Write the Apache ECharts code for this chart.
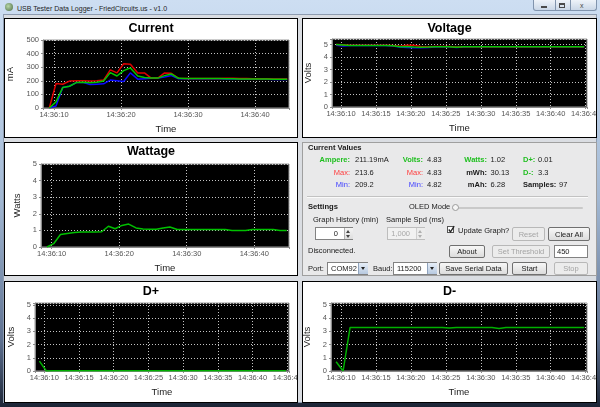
<!DOCTYPE html>
<html><head><meta charset="utf-8">
<script src="https://cdn.jsdelivr.net/npm/echarts@6.0.0/dist/echarts.min.js"></script>
<style>
html,body{margin:0;padding:0;width:600px;height:407px;overflow:hidden;}
body{position:relative;background:linear-gradient(#cddef2 0,#c3d6ed 60px,#a2b8d3 200px,#5e7191 340px,#1c2536 407px);font-family:"Liberation Sans",Arial,sans-serif;color:#1a1a1a;}
.a{position:absolute;}
.content{position:absolute;left:3px;top:14px;width:594px;height:389px;background:#dadde2;box-sizing:border-box;border:1px solid #8e9cb0;}
.panel{position:absolute;background:#fff;border:1px solid #000;box-sizing:border-box;}
.chart{position:absolute;left:0;top:0;width:100%;height:100%;}
.vals{position:absolute;left:302px;top:142px;width:295px;height:134px;background:#e9e9ea;border:1px solid #9f9f9f;box-sizing:border-box;}
.t{position:absolute;font-size:7.5px;line-height:9px;white-space:nowrap;}
.b{font-weight:bold;}
.r{text-align:right;}
.g{color:#1fbf1f;}
.rd{color:#ff3b3b;}
.bl{color:#4040ff;}
.btn{position:absolute;box-sizing:border-box;border:1px solid #707070;border-radius:2px;background:linear-gradient(#f7f7f7,#dcdcdc);font-size:7.5px;display:flex;align-items:center;justify-content:center;white-space:nowrap;}
.dis{border-color:#b8b8b8;color:#a4a4a4;background:#ececec;}
.field{position:absolute;box-sizing:border-box;border:1px solid #828282;background:#fff;font-size:7.5px;line-height:11px;white-space:nowrap;}
.tri{position:absolute;width:0;height:0;border-left:2px solid transparent;border-right:2px solid transparent;}
</style></head><body>

<!-- title bar -->
<div class="a" style="left:5px;top:3px;width:8px;height:8px;border-radius:50%;background:radial-gradient(circle at 40% 40%,#b8d8a8,#4a6a44);"></div>
<div class="t" style="left:17px;top:4px;font-size:7px;color:#1e1e1e;">USB Tester Data Logger - FriedCircuits.us - v1.0</div>
<div class="a" style="left:533px;top:0;width:64px;height:11px;box-sizing:border-box;border:1px solid #8194ad;border-top:none;border-radius:0 0 3px 3px;background:linear-gradient(#eef3f9,#cad7e7);"></div>
<div class="a" style="left:555px;top:0;width:1px;height:11px;background:#8194ad;"></div>
<div class="a" style="left:570px;top:0;width:1px;height:11px;background:#8194ad;"></div>
<div class="a" style="left:541px;top:6px;width:6px;height:2px;background:#4a4a4a;"></div>
<div class="a" style="left:559px;top:3px;width:6px;height:5px;box-sizing:border-box;border:1px solid #4a4a4a;border-top-width:2px;"></div>
<div class="t" style="left:580px;top:1px;font-size:7px;color:#4a4a4a;">x</div>

<div class="content"></div>

<div class="panel" style="left:4px;top:18px;width:294px;height:120px;"><div id="c1" class="chart"></div></div>
<div class="panel" style="left:302px;top:18px;width:295px;height:120px;"><div id="c2" class="chart"></div></div>
<div class="panel" style="left:4px;top:142px;width:294px;height:134px;"><div id="c3" class="chart"></div></div>
<div class="panel" style="left:4px;top:281px;width:294px;height:122px;"><div id="c4" class="chart"></div></div>
<div class="panel" style="left:302px;top:281px;width:295px;height:122px;"><div id="c5" class="chart"></div></div>

<div class="vals"></div>
<div class="t b" style="left:308px;top:142.5px;font-size:7.6px;">Current Values</div>

<div class="t b g r" style="left:290px;width:60px;top:154.5px;">Ampere:</div>
<div class="t rd r" style="left:290px;width:60px;top:167.5px;">Max:</div>
<div class="t bl r" style="left:290px;width:60px;top:179.5px;">Min:</div>
<div class="t" style="left:355px;top:154.5px;">211.19mA</div>
<div class="t" style="left:355px;top:167.5px;">213.6</div>
<div class="t" style="left:355px;top:179.5px;">209.2</div>

<div class="t b g r" style="left:373px;width:50px;top:154.5px;">Volts:</div>
<div class="t rd r" style="left:373px;width:50px;top:167.5px;">Max:</div>
<div class="t bl r" style="left:373px;width:50px;top:179.5px;">Min:</div>
<div class="t" style="left:427px;top:154.5px;">4.83</div>
<div class="t" style="left:427px;top:167.5px;">4.83</div>
<div class="t" style="left:427px;top:179.5px;">4.82</div>

<div class="t b g r" style="left:437px;width:50px;top:154.5px;">Watts:</div>
<div class="t b r" style="left:437px;width:50px;top:167.5px;">mWh:</div>
<div class="t b r" style="left:437px;width:50px;top:179.5px;">mAh:</div>
<div class="t" style="left:490.5px;top:154.5px;">1.02</div>
<div class="t" style="left:490.5px;top:167.5px;">30.13</div>
<div class="t" style="left:490.5px;top:179.5px;">6.28</div>

<div class="t b g" style="left:523px;top:154.5px;">D+:</div>
<div class="t b g" style="left:523px;top:167.5px;">D-:</div>
<div class="t b" style="left:523px;top:179.5px;">Samples:</div>
<div class="t" style="left:538px;top:154.5px;">0.01</div>
<div class="t" style="left:538px;top:167.5px;">3.3</div>
<div class="t" style="left:559px;top:179.5px;">97</div>

<div class="a" style="left:307px;top:196px;width:281px;height:1px;background:#c2c2c2;"></div>
<div class="a" style="left:307px;top:197px;width:281px;height:1px;background:#fafafa;"></div>

<div class="t b" style="left:308px;top:201.5px;font-size:7.6px;">Settings</div>
<div class="t" style="left:409px;top:201.5px;">OLED Mode</div>
<div class="a" style="left:452px;top:206.5px;width:131px;height:2px;background:#c9c9c9;border-radius:1px;"></div>
<div class="a" style="left:452px;top:204px;width:7px;height:7px;box-sizing:border-box;border-radius:50%;border:1px solid #9a9a9a;background:#f5f5f5;"></div>

<div class="t" style="left:313px;top:214.5px;">Graph History (min)</div>
<div class="t" style="left:386px;top:214.5px;">Sample Spd (ms)</div>

<div class="field" style="left:315px;top:227px;width:38px;height:13px;"><span style="position:absolute;right:14px;top:0;">0</span></div>
<div class="a" style="left:344px;top:228px;width:8px;height:11px;border-left:1px solid #b0b0b0;background:linear-gradient(#f4f4f4,#dedede);"></div>
<div class="tri" style="left:346px;top:230px;border-bottom:3px solid #444;"></div>
<div class="tri" style="left:346px;top:235px;border-top:3px solid #444;"></div>

<div class="field" style="left:387px;top:227px;width:38px;height:13px;background:#f1f1f1;border-color:#bdbdbd;color:#a8a8a8;"><span style="position:absolute;right:14px;top:0;">1,000</span></div>
<div class="a" style="left:416px;top:228px;width:8px;height:11px;border-left:1px solid #cfcfcf;background:#ececec;"></div>
<div class="tri" style="left:418px;top:230px;border-bottom:3px solid #b0b0b0;"></div>
<div class="tri" style="left:418px;top:235px;border-top:3px solid #b0b0b0;"></div>

<div class="a" style="left:447px;top:226px;width:7px;height:7px;box-sizing:border-box;border:1px solid #555;background:#fff;"></div>
<svg class="a" style="left:447px;top:225px;" width="9" height="9"><polyline points="1.8,4.5 3.5,6.8 7.2,1.2" fill="none" stroke="#222" stroke-width="1.3"/></svg>
<div class="t" style="left:458px;top:226px;">Update Graph?</div>

<div class="btn dis" style="left:512px;top:227px;width:33px;height:14px;">Reset</div>
<div class="btn" style="left:548px;top:227px;width:42px;height:14px;">Clear All</div>

<div class="t" style="left:308px;top:245.5px;">Disconnected.</div>
<div class="btn" style="left:449px;top:244.5px;width:36px;height:13px;">About</div>
<div class="btn dis" style="left:492px;top:244.5px;width:58px;height:13px;">Set Threshold</div>
<div class="field" style="left:554px;top:244.5px;width:34px;height:13px;padding-left:2px;">450</div>

<div class="t" style="left:308px;top:264px;">Port:</div>
<div class="field" style="left:327px;top:262px;width:41px;height:13px;padding-left:3px;">COM92</div>
<div class="a" style="left:358px;top:263px;width:9px;height:11px;border-left:1px solid #8fa3bd;background:linear-gradient(#e6eef8,#b7c9e0);"></div>
<div class="tri" style="left:360.5px;top:267px;border-left-width:2px;border-right-width:2px;border-top:3px solid #222;"></div>
<div class="t" style="left:373px;top:264px;">Baud:</div>
<div class="field" style="left:393px;top:262px;width:44px;height:13px;padding-left:3px;">115200</div>
<div class="a" style="left:427px;top:263px;width:9px;height:11px;border-left:1px solid #8fa3bd;background:linear-gradient(#e6eef8,#b7c9e0);"></div>
<div class="tri" style="left:429.5px;top:267px;border-top:3px solid #222;"></div>
<div class="btn" style="left:439px;top:262px;width:69px;height:13px;">Save Serial Data</div>
<div class="btn" style="left:512px;top:262px;width:35px;height:13px;">Start</div>
<div class="btn dis" style="left:554px;top:262px;width:34px;height:13px;">Stop</div>

<script>
// sample times, seconds after 14:36:00
const TIME_PREFIX = '14:36:';
const TIME = [9.3, 10.3, 11.3, 12.3, 13.4, 14.4, 15.4, 16.4, 17.4, 18.4, 19.4, 20.4, 21.4, 22.5, 23.5, 24.5, 25.5, 26.5,
              27.5, 28.6, 29.6, 30.6, 31.6, 32.6, 33.6, 34.6, 35.7, 36.7, 37.7, 38.7, 39.7, 40.8, 41.8, 42.8, 43.8, 44.8];

// Current (mA)
const CURRENT_MAX = [0,180,175,198,200,200,198,200,205,280,258,325,322,258,258,220,220,258,255,218,
                     216,217,217,217,217,217,218,218,217,216,215,215,215,214,214,214];
const CURRENT_AVG = [0,45,150,160,188,190,185,190,198,260,235,275,295,235,225,220,220,238,250,218,
                     216,216,216,216,216,216,215,215,214,214,213,213,213,212,212,211];
const CURRENT_MIN = [0,15,150,160,188,188,172,175,178,205,200,195,258,212,215,218,220,228,238,215,
                     215,215,215,215,215,215,214,214,213,213,212,211,211,210,210,209];

// Voltage (V)
const VOLT_MAX = [5.0,4.98,4.94,4.94,4.94,4.94,4.94,4.94,4.92,4.86,4.95,4.95,4.85,4.83,4.84,4.84,4.84,4.8,4.83,
                  4.83,4.83,4.83,4.83,4.83,4.83,4.83,4.83,4.83,4.83,4.83,4.83,4.83,4.83,4.83,4.83,4.83];
const VOLT_MIN = [4.95,4.88,4.92,4.93,4.93,4.93,4.93,4.93,4.88,4.8,4.77,4.75,4.75,4.76,4.8,4.82,4.82,4.77,4.8,
                  4.82,4.82,4.83,4.83,4.83,4.83,4.83,4.83,4.83,4.83,4.83,4.83,4.83,4.83,4.83,4.83,4.83];
const VOLT_AVG = [5.0,4.97,4.93,4.93,4.93,4.93,4.93,4.93,4.9,4.83,4.85,4.8,4.78,4.8,4.83,4.83,4.83,4.78,4.82,
                  4.83,4.83,4.83,4.83,4.83,4.83,4.83,4.83,4.83,4.83,4.83,4.83,4.83,4.83,4.83,4.83,4.83];

// Wattage (W)
const WATTS = [0,0.2,0.75,0.82,0.88,0.9,0.9,0.9,0.92,1.25,1.1,1.3,1.38,1.15,1.08,1.07,1.07,1.15,1.2,1.05,
               1.05,1.05,1.05,1.05,1.05,1.05,1.05,1.0,1.0,1.0,1.05,1.05,1.05,1.05,1.0,1.0];

// D+ / D- (V)
const DPLUS = [0.75,0,0.02,0.02,0.02,0.02,0.02,0.02,0.02,0.02,0.02,0.02,0.02,0.02,0.02,0.02,0.02,0.02,
               0.02,0.02,0.02,0.02,0.02,0.02,0.02,0.02,0.02,0.02,0.02,0.02,0.02,0.02,0.02,0.02,0.02,0.02];
const DMINUS = [0.7,0,3.3,3.3,3.3,3.3,3.3,3.3,3.3,3.3,3.3,3.3,3.3,3.3,3.3,3.3,3.25,3.3,
                3.3,3.3,3.3,3.3,3.3,3.22,3.3,3.3,3.3,3.3,3.3,3.3,3.3,3.3,3.3,3.3,3.3,3.3];

const RED = '#e00000', GREEN = '#00c800', BLUE = '#0a0aff';
const FONT = 'Liberation Sans, Arial, sans-serif';

function pair(vals) { return TIME.map((t, i) => [t, vals[i]]); }
function pad(n) { return (n < 10 ? '0' : '') + n; }

function makeChart(id, c) {
  const chart = echarts.init(document.getElementById(id), null, { renderer: 'canvas' });
  chart.setOption({
    animation: false,
    textStyle: { fontFamily: FONT },
    title: {
      text: c.title, left: 'center', top: c.titleTop, padding: 0,
      textStyle: { fontSize: 12.5, fontWeight: 'bold', color: '#000', fontFamily: FONT }
    },
    grid: {
      left: c.grid[0], top: c.grid[1], width: c.grid[2], height: c.grid[3],
      show: true, backgroundColor: '#000', borderColor: '#9a9a9a', borderWidth: 1,
      containLabel: false, outerBoundsMode: 'none'
    },
    xAxis: {
      type: 'value', min: c.xMin, max: c.xMax, splitNumber: Math.round((c.xMax - c.xMin) / c.xStep),
      minInterval: c.xStep, maxInterval: c.xStep,
      name: 'Time', nameLocation: 'middle', nameGap: c.xGap,
      nameTextStyle: { fontSize: 9.5, color: '#222', fontFamily: FONT },
      axisLine: { show: true, onZero: false, lineStyle: { color: '#8a8a8a', width: 1 } },
      axisTick: { show: true, length: 2, lineStyle: { color: '#8a8a8a' } },
      axisLabel: {
        show: true, margin: 3, fontSize: 7.5, color: '#555', fontFamily: FONT, hideOverlap: false,
        showMinLabel: true, showMaxLabel: true,
        formatter: v => {
          const r = Math.round(v);
          return (Math.abs(v - r) < 1e-6 && r % c.xStep === 0) ? TIME_PREFIX + pad(r) : '';
        }
      },
      splitLine: { show: true, lineStyle: { color: '#c4c4c4', type: [1, 2], width: 1 } }
    },
    yAxis: {
      type: 'value', min: 0, max: c.yMax, interval: c.yStep,
      name: c.yName, nameLocation: 'middle', nameGap: c.yGap,
      nameTextStyle: { fontSize: 9.5, color: '#222', fontFamily: FONT },
      axisLine: { show: true, lineStyle: { color: '#8a8a8a', width: 1 } },
      axisTick: { show: true, length: 2, lineStyle: { color: '#8a8a8a' } },
      axisLabel: {
        show: true, margin: 4, fontSize: 7.5, color: '#555', fontFamily: FONT,
        formatter: v => {
          const r = Math.round(v);
          return (Math.abs(v - r) < 1e-6 && r % c.yStep === 0) ? String(r) : '';
        }
      },
      splitLine: { show: true, lineStyle: { color: '#c4c4c4', type: [1, 2], width: 1 } }
    },
    series: c.series.map(s => ({
      type: 'line', data: pair(s.data), symbol: 'none', showSymbol: false, silent: true,
      lineStyle: { width: 1.5, color: s.color }, itemStyle: { color: s.color }
    }))
  });
}

makeChart('c1', { title: 'Current', titleTop: 3, grid: [38, 21, 246, 68], xMin: 8.36, xMax: 45.07, xStep: 10,
  yName: 'mA', yMax: 500, yStep: 100, yGap: 19, xGap: 14,
  series: [{ data: CURRENT_MIN, color: BLUE }, { data: CURRENT_MAX, color: RED }, { data: CURRENT_AVG, color: GREEN }] });

makeChart('c2', { title: 'Voltage', titleTop: 3, grid: [29, 20, 255, 68], xMin: 8.71, xMax: 45.19, xStep: 5,
  yName: 'Volts', yMax: 5.45, yStep: 1, yGap: 11.5, xGap: 15.5,
  series: [{ data: VOLT_MIN, color: BLUE }, { data: VOLT_MAX, color: RED }, { data: VOLT_AVG, color: GREEN }] });

makeChart('c3', { title: 'Wattage', titleTop: 2.5, grid: [36, 21, 248, 83], xMin: 8.42, xMax: 45.14, xStep: 10,
  yName: 'Watts', yMax: 5, yStep: 1, yGap: 10.5, xGap: 14,
  series: [{ data: WATTS, color: '#00c000' }] });

makeChart('c4', { title: 'D+', titleTop: 3.5, grid: [30, 21, 254, 68], xMin: 8.66, xMax: 45.24, xStep: 5,
  yName: 'Volts', yMax: 5.15, yStep: 1, yGap: 11.5, xGap: 15.5,
  series: [{ data: DPLUS, color: '#00b000' }] });

makeChart('c5', { title: 'D-', titleTop: 3.5, grid: [28, 21, 256, 68], xMin: 8.57, xMax: 45.19, xStep: 5,
  yName: 'Volts', yMax: 5.15, yStep: 1, yGap: 10.5, xGap: 15.5,
  series: [{ data: DMINUS, color: '#00b000' }] });
</script>
</body></html>
